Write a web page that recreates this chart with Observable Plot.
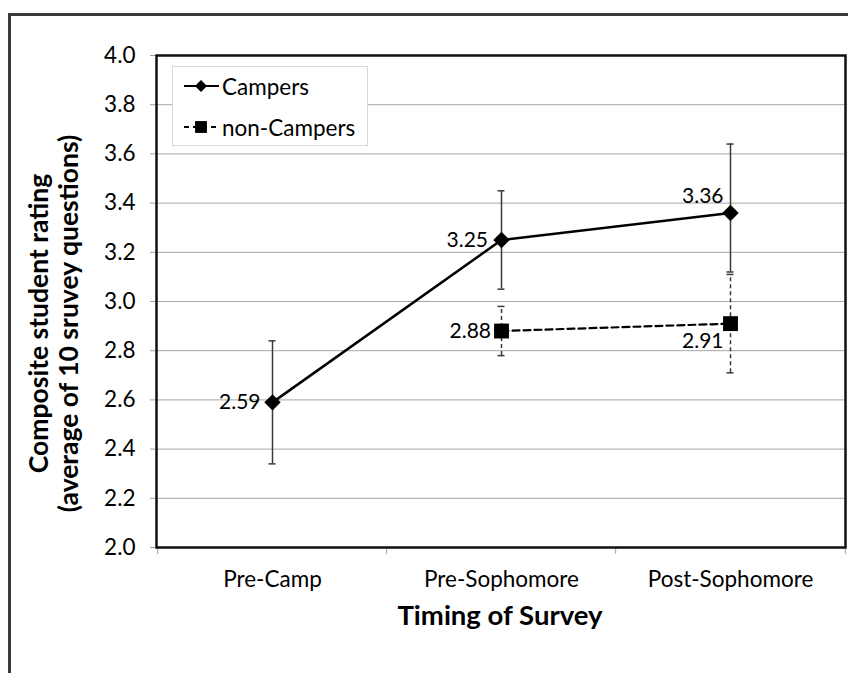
<!DOCTYPE html>
<html>
<head>
<meta charset="utf-8">
<script src="https://cdn.jsdelivr.net/npm/d3@7"></script>
<script src="https://cdn.jsdelivr.net/npm/@observablehq/plot@0.6"></script>
<style>
  html, body { margin: 0; padding: 0; background: #fff; overflow: hidden; }
  #wrap { position: relative; width: 848px; height: 673px; overflow: hidden; font-family: Lato, "Open Sans", sans-serif; }
  #outer { position: absolute; left: 8px; top: 13px; width: 900px; height: 720px; border: 3px solid #3a3a3a; box-sizing: border-box; pointer-events: none; }
  #legend { position: absolute; left: 172px; top: 66px; width: 196px; height: 80px; border: 1px solid #d9d9d9; background: #fff; box-sizing: border-box; }
  .row { position: absolute; left: 10px; height: 24px; display: flex; align-items: center; font-size: 22.5px; color: #000; white-space: nowrap; }
  .row svg { margin-right: 2px; flex: none; }
</style>
</head>
<body>
<div id="wrap">
  <div id="chart"></div>
  <div id="legend"></div>
  <div id="outer"></div>
</div>
<script>
// ---- data ----
const categories = ["Pre-Camp", "Pre-Sophomore", "Post-Sophomore"];
const camperCats = ["Pre-Camp", "Pre-Sophomore", "Post-Sophomore"];
const camperValues = [2.59, 3.25, 3.36];
const camperLow = [2.34, 3.05, 3.12];
const camperHigh = [2.84, 3.45, 3.64];
const nonCamperCats = ["Pre-Sophomore", "Post-Sophomore"];
const nonCamperValues = [2.88, 2.91];
const nonCamperLow = [2.78, 2.71];
const nonCamperHigh = [2.98, 3.11];
const yTicks = [2.0, 2.2, 2.4, 2.6, 2.8, 3.0, 3.2, 3.4, 3.6, 3.8, 4.0];
const seriesNames = ["Campers", "non-Campers"];
const xTitle = "Timing of Survey";
const yTitle = "Composite student rating\n(average of 10 sruvey questions)";

const campers = camperCats.map((c, i) => ({cat: c, v: camperValues[i], lo: camperLow[i], hi: camperHigh[i], label: camperValues[i].toFixed(2)}));
const nonCampers = nonCamperCats.map((c, i) => ({cat: c, v: nonCamperValues[i], lo: nonCamperLow[i], hi: nonCamperHigh[i], label: nonCamperValues[i].toFixed(2)}));

const W = 848, H = 673, ML = 156, MR = 3, MT = 55, MB = 126;
const step = (W - ML - MR) / categories.length;
const cap = {insetLeft: -3.5, insetRight: -3.5, stroke: "#3a3a3a", strokeWidth: 1.5};
const labelFont = 21;

const chart = Plot.plot({
  width: W, height: H,
  marginLeft: ML, marginRight: MR, marginTop: MT, marginBottom: MB,
  style: {fontFamily: "Lato, 'Open Sans', sans-serif", background: "transparent", overflow: "visible"},
  x: {type: "point", domain: categories, padding: 0.5, axis: null, label: null},
  y: {domain: [2, 4], axis: null, label: null},
  marks: [
    Plot.gridY(yTicks.slice(1, -1), {stroke: "#a6a6a6", strokeOpacity: 1, strokeWidth: 1}),
    Plot.axisY({ticks: yTicks, tickSize: 6, tickPadding: 15, tickFormat: d3.format(".1f"), fontSize: 22.5, stroke: "#a0a0a0", fill: "#000", label: null}),
    Plot.axisX({tickSize: 0, tickPadding: 24, fontSize: 22.5, fill: "#000", label: null}),
    Plot.ruleX(categories, {x: d => d, dx: -step / 2, y1: 2, y2: 1.972, stroke: "#a0a0a0"}),
    Plot.ruleX(categories.slice(-1), {x: d => d, dx: step / 2, y1: 2, y2: 1.972, stroke: "#a0a0a0"}),
    Plot.frame({stroke: "#111", strokeWidth: 2.5}),
    // error bars
    Plot.ruleX(campers, {x: "cat", y1: "lo", y2: "hi", stroke: "#3a3a3a", strokeWidth: 1.5}),
    Plot.ruleY(campers, {x1: "cat", x2: "cat", y: "lo", ...cap}),
    Plot.ruleY(campers, {x1: "cat", x2: "cat", y: "hi", ...cap}),
    Plot.ruleX(nonCampers, {x: "cat", y1: "lo", y2: "hi", stroke: "#3a3a3a", strokeWidth: 1.5, strokeDasharray: "4,3"}),
    Plot.ruleY(nonCampers, {x1: "cat", x2: "cat", y: "lo", ...cap}),
    Plot.ruleY(nonCampers, {x1: "cat", x2: "cat", y: "hi", ...cap}),
    // lines
    Plot.line(campers, {x: "cat", y: "v", stroke: "#000", strokeWidth: 2.5}),
    Plot.line(nonCampers, {x: "cat", y: "v", stroke: "#000", strokeWidth: 2.2, strokeDasharray: "7,4"}),
    // markers
    Plot.dot(campers, {x: "cat", y: "v", symbol: "diamond2", r: 7.4, fill: "#000", stroke: null}),
    Plot.dot(nonCampers, {x: "cat", y: "v", symbol: "square", r: 8.4, fill: "#000", stroke: null}),
    // value labels
    Plot.text(campers.slice(0, 1), {x: "cat", y: "v", text: "label", textAnchor: "end", dx: -12, fontSize: labelFont, fill: "#000"}),
    Plot.text(campers.slice(1, 2), {x: "cat", y: "v", text: "label", textAnchor: "end", dx: -13.5, fontSize: labelFont, fill: "#000"}),
    Plot.text(campers.slice(2), {x: "cat", y: "v", text: "label", textAnchor: "end", dx: -7, dy: -17, fontSize: labelFont, fill: "#000"}),
    Plot.text(nonCampers.slice(0, 1), {x: "cat", y: "v", text: "label", textAnchor: "end", dx: -10.5, fontSize: labelFont, fill: "#000"}),
    Plot.text(nonCampers.slice(1), {x: "cat", y: "v", text: "label", textAnchor: "end", dx: -7, dy: 18, fontSize: labelFont, fill: "#000"}),
    // axis titles
    Plot.text([xTitle], {frameAnchor: "bottom", lineAnchor: "middle", textAnchor: "middle", dx: -1, dy: 69, fontSize: 27.5, fontWeight: "bold", fill: "#000"}),
    Plot.text([yTitle], {frameAnchor: "left", textAnchor: "middle", lineAnchor: "middle", dx: -103, dy: 22, rotate: -90, fontSize: 26.5, fontWeight: "bold", lineHeight: 1.12, fill: "#000"})
  ]
});
document.getElementById("chart").appendChild(chart);

// legend
const legend = d3.select("#legend");
const rows = [
  {name: seriesNames[0], top: 7, dash: null, sym: d3.symbolDiamond2, size: 92},
  {name: seriesNames[1], top: 48, dash: "5,4", sym: d3.symbolSquare, size: 140}
];
rows.forEach(r => {
  const row = legend.append("div").attr("class", "row").style("top", r.top + "px");
  const svg = row.append("svg").attr("width", 37).attr("height", 24);
  svg.append("line").attr("x1", 1).attr("x2", 36).attr("y1", 12).attr("y2", 12)
    .attr("stroke", "#000").attr("stroke-width", 2.2).attr("stroke-dasharray", r.dash);
  svg.append("path").attr("d", d3.symbol(r.sym, r.size)()).attr("transform", "translate(18,12)").attr("fill", "#000");
  row.append("span").text(r.name);
});
</script>
</body>
</html>
